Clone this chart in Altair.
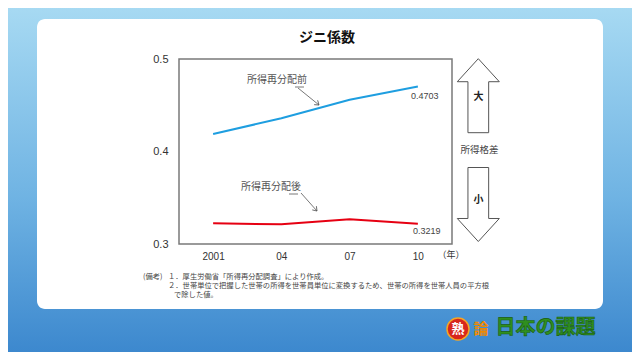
import altair as alt
import pandas as pd

# ---- data ----
years = ["2001", "04", "07", "10"]
before = [0.4190, 0.4359, 0.4560, 0.4703]
after = [0.3224, 0.3213, 0.3267, 0.3219]
series_names = ["所得再分配前", "所得再分配後"]
series_colors = ["#1e9ee0", "#e60012"]
y_ticks = [0.3, 0.4, 0.5]

notes = [
    "(備考)",
    "１．厚生労働省「所得再分配調査」により作成。",
    "２．世帯単位で把握した世帯の所得を世帯員単位に変換するため、世帯の所得を世帯人員の平方根",
    "で除した値。",
]

rows = []
for y, v in zip(years, before):
    rows.append({"year": y, "value": v, "series": series_names[0]})
for y, v in zip(years, after):
    rows.append({"year": y, "value": v, "series": series_names[1]})
df = pd.DataFrame(rows)

last_b = pd.DataFrame({"year": [years[-1]], "value": [before[-1]], "label": [f"{before[-1]:.4f}"]})
last_a = pd.DataFrame({"year": [years[-1]], "value": [after[-1]], "label": [f"{after[-1]:.4f}"]})

# ---- layout (screen coords -> view coords) ----
L, T = 179, 59          # plot-area origin on screen
W, H = 273, 185
def sx(x): return x - L
def sy(y): return y - T

JP = "Noto Sans CJK JP"
NUM = "Liberation Sans"
one = pd.DataFrame({"k": [0]})

x_enc = alt.X("year:O", sort=years,
              scale=alt.Scale(type="point", padding=0.5),
              axis=alt.Axis(title=None, labelAngle=0, ticks=False, domain=False,
                            grid=False, labelPadding=7, labelFontSize=10,
                            labelFont=NUM, labelColor="#333", zindex=1))
y_enc = alt.Y("value:Q",
              scale=alt.Scale(domain=[0.3, 0.5], nice=False, zero=False),
              axis=alt.Axis(title=None, values=y_ticks, format=".1f", ticks=False,
                            domain=False, grid=False, labelPadding=11,
                            labelFontSize=11, labelFont=NUM, labelColor="#333",
                            labelFlush=False, zindex=1))

bg = alt.Chart(one).mark_rect(
    fill=alt.Gradient(gradient="linear", x1=0, x2=0, y1=0, y2=1,
                      stops=[alt.GradientStop(color="#a9dbf3", offset=0),
                             alt.GradientStop(color="#6fb3e3", offset=0.55),
                             alt.GradientStop(color="#3a86cd", offset=1)])
).encode(x=alt.value(sx(0)), x2=alt.value(sx(640)), y=alt.value(sy(0)), y2=alt.value(sy(360)))

panel = alt.Chart(one).mark_rect(fill="white", cornerRadius=8).encode(
    x=alt.value(sx(37)), x2=alt.value(sx(603)), y=alt.value(sy(19)), y2=alt.value(sy(309)))

frame = alt.Chart(one).mark_rect(fill=None, stroke="#7a7a7a", strokeWidth=1.5).encode(
    x=alt.value(0), x2=alt.value(W), y=alt.value(0), y2=alt.value(H))

lines = alt.Chart(df).mark_line(strokeWidth=2).encode(
    x=x_enc, y=y_enc,
    color=alt.Color("series:N", scale=alt.Scale(domain=series_names, range=series_colors), legend=None),
    detail="series:N")

vlab_b = alt.Chart(last_b).mark_text(align="left", baseline="middle", fontSize=9, font=NUM,
                                     color="#444", dx=-7, dy=10).encode(
    x=alt.X("year:O", sort=years), y="value:Q", text="label:N")
vlab_a = alt.Chart(last_a).mark_text(align="left", baseline="middle", fontSize=9, font=NUM,
                                     color="#444", dx=-5, dy=7).encode(
    x=alt.X("year:O", sort=years), y="value:Q", text="label:N")

def text(t, x, y, size=10, color="#555", weight="normal", align="center", font=JP):
    return alt.Chart(one).mark_text(text=t, fontSize=size, color=color, fontWeight=weight,
                                    align=align, baseline="middle", font=font).encode(
        x=alt.value(sx(x)), y=alt.value(sy(y)))

def rule(x1, y1, x2, y2, color="#555", w=0.8):
    return alt.Chart(one).mark_rule(color=color, strokeWidth=w).encode(
        x=alt.value(sx(x1)), y=alt.value(sy(y1)), x2=alt.value(sx(x2)), y2=alt.value(sy(y2)))

def head(x, y, angle):
    return alt.Chart(one).mark_point(shape="M-1,-0.7L0,0L-1,0.7", size=64, filled=False,
                                     stroke="#555", strokeWidth=0.8, angle=angle, opacity=1).encode(
        x=alt.value(sx(x)), y=alt.value(sy(y)))

title = text("ジニ係数", 327, 38, size=14, color="#111", weight="bold")
ann1 = text(series_names[0], 247, 80, align="left")
ann1u = rule(295, 87, 304, 87)
ann1a = rule(298, 88, 319, 105)
ann1h = head(319, 105, 39)
ann2 = text(series_names[1], 241, 187, align="left")
ann2u = rule(289, 194, 298, 194)
ann2a = rule(301, 193, 317, 211)
ann2h = head(317, 211, 48)
nen = text("（年）", 451, 255, size=9, color="#333")

up_path = "M0,-1L0.568,-0.378L0.28,-0.378L0.28,1L-0.28,1L-0.28,-0.378L-0.568,-0.378Z"
down_path = "M0,1L0.568,0.378L0.28,0.378L0.28,-1L-0.28,-1L-0.28,0.378L-0.568,0.378Z"
up = alt.Chart(one).mark_point(shape=up_path, size=74 * 74, filled=True, fill="white",
                               stroke="#555", strokeWidth=1, opacity=1).encode(
    x=alt.value(sx(478.3)), y=alt.value(sy(95.7)))
down = alt.Chart(one).mark_point(shape=down_path, size=74 * 74, filled=True, fill="white",
                                 stroke="#555", strokeWidth=1, opacity=1).encode(
    x=alt.value(sx(478.3)), y=alt.value(sy(204.5)))
big = text("大", 478.5, 97, size=10, color="#222", weight="bold")
small = text("小", 478.5, 200, size=10, color="#222", weight="bold")
kaku = text("所得格差", 479.5, 150, size=9.5, color="#444")

n0 = text(notes[0], 143, 277, size=7.3, align="left", color="#444")
n1 = text(notes[1], 168, 277, size=7.3, align="left", color="#444")
n2 = text(notes[2], 168, 286, size=7.3, align="left", color="#444")
n3 = text(notes[3], 174, 295, size=7.3, align="left", color="#444")

# logo
circ = alt.Chart(one).mark_point(shape="circle", size=22 * 22, filled=True, fill="#d7261c",
                                 stroke="#f5a623", strokeWidth=1.5, opacity=1).encode(
    x=alt.value(sx(458)), y=alt.value(sy(329)))
juku = text("熟", 458, 329, size=13, color="white", weight="bold")
ron = text("論", 481, 329, size=15, color="#f08a00", weight="bold")
logo = alt.Chart(one).mark_text(text="日本の課題", fontSize=20, font=JP, fontWeight="bold",
                                color="#2f8f1f", stroke="#1b5e12", strokeWidth=0.6, baseline="middle",
                                align="left").encode(
    x=alt.value(sx(495.5)), y=alt.value(sy(328)))

chart = alt.layer(
    bg, panel, frame, lines, vlab_b, vlab_a, title,
    ann1, ann1u, ann1a, ann1h, ann2, ann2u, ann2a, ann2h, nen,
    up, down, big, small, kaku, n0, n1, n2, n3,
    circ, juku, ron, logo,
).properties(
    width=W, height=H, autosize="none",
    padding={"left": L - 8, "top": T - 8, "right": 632 - (L + W), "bottom": 352 - (T + H)},
).configure_view(stroke=None).configure(background="#a9dbf3")

chart.save("out.html", embed_options={"renderer": "svg", "actions": False})
